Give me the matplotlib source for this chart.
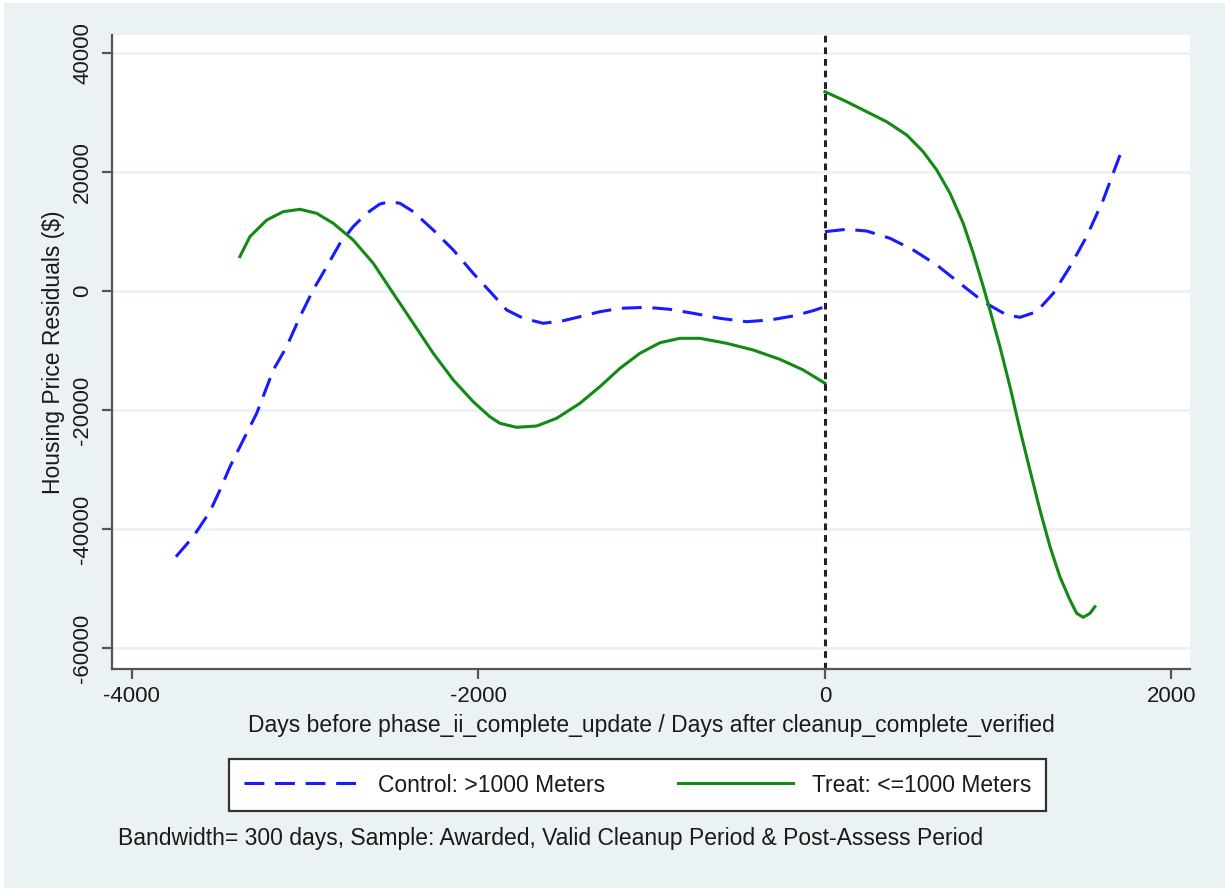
import matplotlib
matplotlib.use("Agg")
import matplotlib.pyplot as plt
from matplotlib.patches import Rectangle

plt.rcParams['font.family'] = ['Liberation Sans', 'DejaVu Sans']
plt.rcParams['axes.unicode_minus'] = False

# smoothed residuals (days, $)
ctrl_pre_x = [-3746, -3646, -3550, -3492, -3434, -3367, -3280, -3184, -3107, -3030,
              -2954, -2876, -2799, -2723, -2645, -2569, -2511, -2453, -2376, -2261,
              -2145, -2030, -1915, -1837, -1741, -1626, -1510, -1414, -1299, -1183,
              -1029, -895, -760, -606, -452, -317, -183, -68, 0]
ctrl_pre_y = [-44660, -41290, -37090, -33450, -29530, -25600, -20560, -13280, -9360, -4320,
              170, 4080, 8020, 10810, 13060, 14620, 15010, 14740, 13330, 10250,
              6890, 2970, -670, -3190, -4590, -5430, -4990, -4320, -3480, -2910,
              -2740, -3080, -3750, -4590, -5160, -4870, -4200, -3310, -2640]

ctrl_post_x = [0, 125, 241, 375, 510, 645, 779, 914, 1049, 1126, 1222, 1318, 1414,
               1510, 1606, 1703]
ctrl_post_y = [9970, 10370, 10080, 8860, 6890, 4370, 1290, -1800, -4030, -4420, -3480,
               -390, 4080, 9130, 15290, 22860]

treat_pre_x = [-3377, -3319, -3222, -3127, -3030, -2934, -2838, -2723, -2607, -2492,
               -2376, -2261, -2145, -2030, -1934, -1876, -1780, -1664, -1549, -1414,
               -1299, -1183, -1068, -952, -837, -722, -567, -414, -260, -125, 0]
treat_pre_y = [5770, 9130, 11930, 13330, 13730, 13060, 11380, 8570, 4660, -390,
               -5430, -10470, -14960, -18610, -21130, -22240, -22910, -22690, -21400, -18870,
               -16080, -12990, -10470, -8690, -7950, -7950, -8790, -9920, -11480, -13280, -15510]

treat_post_x = [0, 125, 241, 356, 472, 567, 645, 722, 798, 856, 914, 952, 1010, 1068,
                1126, 1183, 1241, 1299, 1356, 1414, 1453, 1491, 1530, 1558]
treat_post_y = [33500, 31820, 30130, 28450, 26220, 23410, 20340, 16420, 11380, 6340,
                720, -3190, -9360, -16080, -23360, -30080, -36810, -42970, -48020, -51930,
                -54170, -54840, -54170, -53060]

xticks = [-4000, -2000, 0, 2000]
yticks = [-60000, -40000, -20000, 0, 20000, 40000]

bg = '#eaf2f3'
blue = '#1a1aff'
green = '#138a13'
ink = '#1a1a1a'

fig = plt.figure(figsize=(12.25, 8.88), dpi=100, facecolor='white')
fig.patches.append(Rectangle((4 / 1225, 0), 1, 1 - 3 / 888, transform=fig.transFigure,
                             facecolor=bg, edgecolor='none', zorder=-10))

ax = fig.add_axes([112 / 1225, 1 - 669 / 888, 1078 / 1225, 634 / 888])
ax.set_facecolor('white')

for yt in yticks:
    ax.axhline(yt, color=bg, lw=2, zorder=0)

l1, = ax.plot(ctrl_pre_x, ctrl_pre_y, color=blue, lw=2.2, dashes=(6.5, 3.5))
ax.plot(ctrl_post_x, ctrl_post_y, color=blue, lw=2.2, dashes=(6.5, 3.5))
l2, = ax.plot(treat_pre_x, treat_pre_y, color=green, lw=2.2)
ax.plot(treat_post_x, treat_post_y, color=green, lw=2.2)
ax.axvline(0, color='#222222', lw=2.2, dashes=(2.2, 1.6))

ax.set_xlim(-4115, 2107)
ax.set_ylim(-63530, 43025)
ax.set_xticks(xticks)
ax.set_yticks(yticks)

for s in ['top', 'right']:
    ax.spines[s].set_visible(False)
for s in ['left', 'bottom']:
    ax.spines[s].set_color('#555555')
    ax.spines[s].set_linewidth(1.6)

ax.tick_params(axis='both', direction='out', length=7.5, width=1.6, color='#555555',
               labelsize=16, labelcolor=ink)
ax.tick_params(axis='x', pad=5)
ax.tick_params(axis='y', pad=6)
for lab in ax.get_yticklabels():
    lab.set_rotation(90)
    lab.set_va('center')

ax.set_xlabel('Days before phase_ii_complete_update / Days after cleanup_complete_verified',
              fontsize=16.5, color=ink, labelpad=5)
ax.set_ylabel('Housing Price Residuals ($)', fontsize=16.5, color=ink)
ax.yaxis.set_label_coords(-0.0435, 0.5)

leg = fig.legend([l1, l2], ['Control: >1000 Meters', 'Treat: <=1000 Meters'],
                 loc='center', bbox_to_anchor=(637.5 / 1225, 1 - 785 / 888), ncol=2,
                 fontsize=16.5, frameon=True, fancybox=False, framealpha=1,
                 handlelength=5.0, handletextpad=0.83, columnspacing=3.2, borderpad=0.65)
leg.get_frame().set_edgecolor('#333333')
leg.get_frame().set_facecolor('white')
leg.get_frame().set_linewidth(1.6)
for t in leg.get_texts():
    t.set_color(ink)

fig.text(118 / 1225, 1 - 838 / 888,
         'Bandwidth= 300 days, Sample: Awarded, Valid Cleanup Period & Post-Assess Period',
         fontsize=16.5, color=ink, va='center', ha='left')

fig.savefig('out.png', dpi=100, facecolor=fig.get_facecolor())
